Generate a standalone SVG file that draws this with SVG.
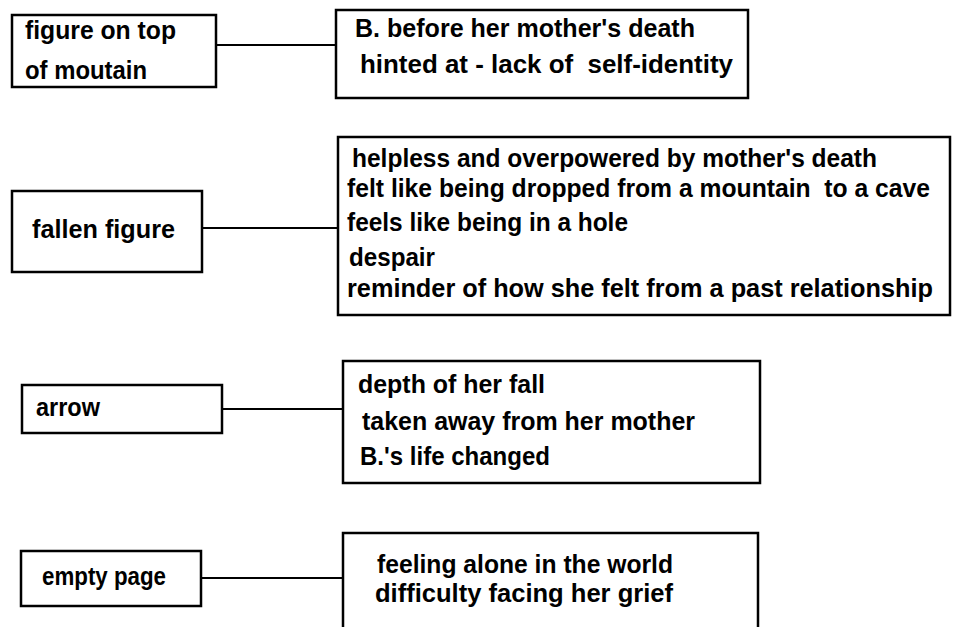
<svg xmlns="http://www.w3.org/2000/svg" width="953" height="627" viewBox="0 0 953 627">
  <style>
    .box { fill: #ffffff; stroke: #000000; stroke-width: 2.5; }
    .link { stroke: #000000; stroke-width: 2; fill: none; }
    text { font-family: "Liberation Sans", Arial, sans-serif; font-weight: bold; font-size: 25px; fill: #000000; white-space: pre; }
  </style>
  <rect width="953" height="627" fill="#ffffff"/>

  <g id="connectors">
    <line class="link" x1="216" y1="45" x2="336" y2="45"/>
    <line class="link" x1="202" y1="228" x2="338" y2="228"/>
    <line class="link" x1="222" y1="409" x2="343" y2="409"/>
    <line class="link" x1="201" y1="578" x2="343" y2="578"/>
  </g>

  <g id="figure-on-top">
    <rect class="box" x="12" y="15" width="204" height="72"/>
    <text x="25" y="39" textLength="151" lengthAdjust="spacingAndGlyphs">figure on top</text>
    <text x="25" y="79" textLength="122" lengthAdjust="spacingAndGlyphs">of moutain</text>
  </g>

  <g id="before-death">
    <rect class="box" x="336" y="10" width="412" height="88"/>
    <text x="355" y="37" textLength="340" lengthAdjust="spacingAndGlyphs">B. before her mother's death</text>
    <text x="360" y="73" textLength="373" lengthAdjust="spacingAndGlyphs">hinted at - lack of  self-identity</text>
  </g>

  <g id="fallen-figure">
    <rect class="box" x="12" y="191" width="190" height="81"/>
    <text x="32" y="238" textLength="143" lengthAdjust="spacingAndGlyphs">fallen figure</text>
  </g>

  <g id="fallen-meaning">
    <rect class="box" x="338" y="137" width="612" height="178"/>
    <text x="352" y="167" textLength="525" lengthAdjust="spacingAndGlyphs">helpless and overpowered by mother's death</text>
    <text x="347" y="197" textLength="583" lengthAdjust="spacingAndGlyphs">felt like being dropped from a mountain  to a cave</text>
    <text x="347" y="231" textLength="281" lengthAdjust="spacingAndGlyphs">feels like being in a hole</text>
    <text x="349" y="266" textLength="86" lengthAdjust="spacingAndGlyphs">despair</text>
    <text x="347" y="297" textLength="586" lengthAdjust="spacingAndGlyphs">reminder of how she felt from a past relationship</text>
  </g>

  <g id="arrow">
    <rect class="box" x="22" y="385" width="200" height="48"/>
    <text x="36" y="416" textLength="64" lengthAdjust="spacingAndGlyphs">arrow</text>
  </g>

  <g id="arrow-meaning">
    <rect class="box" x="343" y="361" width="417" height="122"/>
    <text x="358" y="393" textLength="187" lengthAdjust="spacingAndGlyphs">depth of her fall</text>
    <text x="362" y="430" textLength="333" lengthAdjust="spacingAndGlyphs">taken away from her mother</text>
    <text x="360" y="465" textLength="190" lengthAdjust="spacingAndGlyphs">B.'s life changed</text>
  </g>

  <g id="empty-page">
    <rect class="box" x="21" y="551" width="180" height="55"/>
    <text x="42" y="585" textLength="124" lengthAdjust="spacingAndGlyphs">empty page</text>
  </g>

  <g id="empty-page-meaning">
    <path class="box" d="M343,632 V533 H758 V632"/>
    <text x="377" y="573" textLength="296" lengthAdjust="spacingAndGlyphs">feeling alone in the world</text>
    <text x="375" y="602" textLength="298" lengthAdjust="spacingAndGlyphs">difficulty facing her grief</text>
  </g>
</svg>
